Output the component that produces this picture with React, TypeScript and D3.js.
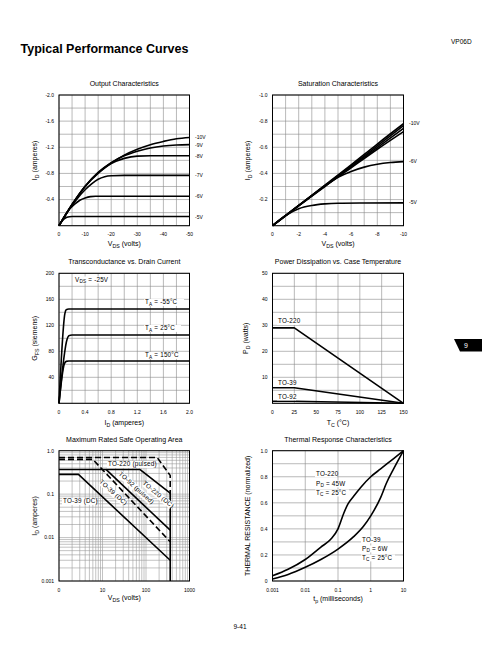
import React from "react";
import * as d3 from "d3";

const W = 486, H = 649;
const FONT = "'Liberation Sans', Arial, Helvetica, sans-serif";

// ---------- layout ----------
const L1 = 59, R1 = 189.5, L2 = 272.5, R2 = 403.5;
const T1 = 95, B1 = 225.7, T2 = 273.3, B2 = 403.3, T3 = 450.7, B3 = 581;

// ---------- Chart 1: Output Characteristics ----------
const c1XTicks = [0, -10, -20, -30, -40, -50];
const c1YTicks = [-2.0, -1.6, -1.2, -0.8, -0.4];
const c1YTickLabels = ["-2.0", "-1.6", "-1.2", "-0.8", "-0.4"];
const c1Labels = ["-10V", "-9V", "-8V", "-7V", "-6V", "-5V"];
const c1VdsA = [0, -5, -10, -15, -20, -25, -30, -35, -40, -45, -50];
const c1Id10 = [0, -0.32, -0.6, -0.81, -0.96, -1.08, -1.17, -1.24, -1.29, -1.33, -1.35];
const c1Id9 = [0, -0.325, -0.605, -0.815, -0.965, -1.07, -1.14, -1.19, -1.22, -1.235, -1.24];
const c1Id8 = [0, -0.325, -0.6, -0.8, -0.95, -1.03, -1.065, -1.07, -1.07, -1.07, -1.07];
const c1Vds7 = [0, -2.5, -5, -7.5, -10, -12.5, -15, -17.5, -20, -25, -50];
const c1Id7 = [0, -0.17, -0.31, -0.44, -0.55, -0.64, -0.71, -0.75, -0.765, -0.77, -0.77];
const c1Vds6 = [0, -2, -4, -6, -8, -10, -12, -14, -50];
const c1Id6 = [0, -0.13, -0.25, -0.33, -0.39, -0.425, -0.445, -0.45, -0.45];
const c1Vds5 = [0, -1, -2, -3, -4, -5, -50];
const c1Id5 = [0, -0.065, -0.105, -0.128, -0.138, -0.14, -0.14];

// ---------- Chart 2: Saturation Characteristics ----------
const c2XTicks = [0, -2, -4, -6, -8, -10];
const c2YTicks = [-1.0, -0.8, -0.6, -0.4, -0.2];
const c2YTickLabels = ["-1.0", "-0.8", "-0.6", "-0.4", "-0.2"];
const c2Vds = [0, -2, -4, -6, -8, -10];
const c2Id10 = [0, -0.155, -0.31, -0.465, -0.625, -0.78];
const c2Id9 = [0, -0.154, -0.306, -0.457, -0.611, -0.765];
const c2Id8 = [0, -0.153, -0.303, -0.45, -0.598, -0.745];
const c2Id7 = [0, -0.152, -0.3, -0.443, -0.585, -0.72];
const c2Vds6 = [0, -2, -4, -5, -6, -7, -8, -9, -10];
const c2Id6 = [0, -0.155, -0.305, -0.37, -0.415, -0.448, -0.47, -0.483, -0.49];
const c2Vds5 = [0, -1, -2, -3, -4, -5, -7, -10];
const c2Id5 = [0, -0.078, -0.13, -0.155, -0.167, -0.172, -0.174, -0.175];

// ---------- Chart 3: Transconductance ----------
const c3XTicks = [0, 0.4, 0.8, 1.2, 1.6, 2.0];
const c3XTickLabels = ["0", "0.4", "0.8", "1.2", "1.6", "2.0"];
const c3YTicks = [200, 160, 120, 80, 40];
const c3IdM55 = [0, 0.09, 0.11, 0.15, 2.0];
const c3GM55 = [0, 138, 144, 145, 145];
const c3Id25 = [0, 0.125, 0.15, 0.2, 2.0];
const c3G25 = [0, 99, 104, 105, 105];
const c3Id150 = [0, 0.08, 0.11, 0.15, 2.0];
const c3G150 = [0, 60, 64.5, 65, 65];

// ---------- Chart 4: Power Dissipation ----------
const c4XTicks = [0, 25, 50, 75, 100, 125, 150];
const c4YTicks = [50, 40, 30, 20, 10];
const c4Tc = [0, 25, 150];
const c4P220 = [29, 29, 0];
const c4P39 = [6, 6, 0];
const c4P92 = [0.8, 0.8, 0];

// ---------- Chart 5: SOA ----------
const c5XTicks = [1, 10, 100, 1000];
const c5XTickLabels = ["0", "10", "100", "1000"];
const c5YTicks = [1, 0.1, 0.01, 0.001];
const c5YTickLabels = ["1.0", "0.1", "0.01", "0.001"];
const c5V220p = [1, 180, 360, 360];
const c5I220p = [0.7, 0.7, 0.27, 0.1];
const c5V220 = [1, 72, 360, 360];
const c5I220 = [0.37, 0.37, 0.105, 0.001];
const c5V92p = [1, 6, 360];
const c5I92p = [0.63, 0.63, 0.008];
const c5V92 = [12, 360];
const c5I92 = [0.37, 0.0148];
const c5V39 = [1, 2.8, 360];
const c5I39 = [0.285, 0.285, 0.003];

// ---------- Chart 6: Thermal Response ----------
const c6XTicks = [0.001, 0.01, 0.1, 1, 10];
const c6XTickLabels = ["0.001", "0.01", "0.1", "1", "10"];
const c6YTicks = [1.0, 0.8, 0.6, 0.4, 0.2, 0];
const c6YTickLabels = ["1.0", "0.8", "0.6", "0.4", "0.2", "0"];
const c6T220 = [0.001, 0.003, 0.01, 0.03, 0.06, 0.1, 0.15, 0.2, 0.3, 0.5, 1, 2, 5, 10];
const c6R220 = [0.04, 0.09, 0.165, 0.26, 0.32, 0.4, 0.52, 0.59, 0.65, 0.72, 0.8, 0.86, 0.94, 1.0];
const c6T39 = [0.001, 0.003, 0.01, 0.03, 0.1, 0.3, 0.6, 1, 2, 3, 5, 10];
const c6R39 = [0.015, 0.05, 0.105, 0.165, 0.245, 0.34, 0.42, 0.5, 0.64, 0.75, 0.86, 1.0];

// ---------- helpers ----------
type P = [number, number];
const zip = (xs: number[], ys: number[]): P[] => xs.map((v, i) => [v, ys[i]] as P);
const TICK = 5, ANN = 6.3, TTL = 7, AX = 7;

function Rich({ parts, fs }: { parts: [string, boolean][]; fs: number }) {
  let prev = false;
  return (
    <>
      {parts.map(([t, s], i) => {
        let dy = 0;
        if (s && !prev) dy = fs * 0.3;
        if (!s && prev) dy = -fs * 0.3;
        prev = s;
        return (
          <tspan key={i} dy={dy} fontSize={s ? fs * 0.75 : fs}>
            {t}
          </tspan>
        );
      })}
    </>
  );
}

function Grid({ xs, ys, gx, gy, color = "#8a8a8a" }: any) {
  const [l, r] = xs.range();
  const [b, t] = ys.range();
  return (
    <g>
      {gx.map((v: number, i: number) => (
        <line key={"x" + i} x1={xs(v)} x2={xs(v)} y1={t} y2={b} stroke={color} strokeWidth={0.6} />
      ))}
      {gy.map((v: number, i: number) => (
        <line key={"y" + i} y1={ys(v)} y2={ys(v)} x1={l} x2={r} stroke={color} strokeWidth={0.6} />
      ))}
      <rect x={l} y={t} width={r - l} height={b - t} fill="none" stroke="#000" strokeWidth={1} />
    </g>
  );
}

function XTicks({ sc, vals, labels, y }: any) {
  return (
    <g fontSize={TICK} textAnchor="middle">
      {vals.map((v: number, i: number) => (
        <text key={i} x={sc(v)} y={y}>
          {labels ? labels[i] : String(v)}
        </text>
      ))}
    </g>
  );
}
function YTicks({ sc, vals, labels, x }: any) {
  return (
    <g fontSize={TICK} textAnchor="end">
      {vals.map((v: number, i: number) => (
        <text key={i} x={x} y={sc(v) + 1.8}>
          {labels ? labels[i] : String(v)}
        </text>
      ))}
    </g>
  );
}

function Curve({ d, dash }: { d: string | null; dash?: string }) {
  return <path d={d || ""} fill="none" stroke="#000" strokeWidth={1.6} strokeDasharray={dash} strokeLinejoin="round" />;
}

function Ann({ x, y, parts, w, anchor = "start", rot = 0, bg = true }: any) {
  const fs = ANN;
  const x0 = anchor === "middle" ? -w / 2 : 0;
  return (
    <g transform={`translate(${x},${y}) rotate(${rot})`}>
      {bg && <rect x={x0 - 1} y={-fs * 0.8} width={w + 2} height={fs * 1.1} fill="#fff" />}
      <text x={0} y={0} fontSize={fs} textAnchor={anchor} letterSpacing={0.2}>
        <Rich parts={parts} fs={fs} />
      </text>
    </g>
  );
}

function YTitle({ x, y, parts }: any) {
  return (
    <text transform={`translate(${x},${y}) rotate(-90)`} textAnchor="middle" fontSize={AX}>
      <Rich parts={parts} fs={AX} />
    </text>
  );
}
function XTitle({ x, y, parts }: any) {
  return (
    <text x={x} y={y} textAnchor="middle" fontSize={AX}>
      <Rich parts={parts} fs={AX} />
    </text>
  );
}
function Title({ x, y, t }: any) {
  return (
    <text x={x} y={y} textAnchor="middle" fontSize={TTL}>
      {t}
    </text>
  );
}

export default function App() {
  const mono = d3.curveMonotoneX;
  // Chart 1
  const x1 = d3.scaleLinear().domain([0, -50]).range([L1, R1]);
  const y1 = d3.scaleLinear().domain([0, -2]).range([B1, T1]);
  const l1 = d3.line<P>().x((d) => x1(d[0])).y((d) => y1(d[1])).curve(mono);
  const c1Curves: P[][] = [
    zip(c1VdsA, c1Id10),
    zip(c1VdsA, c1Id9),
    zip(c1VdsA, c1Id8),
    zip(c1Vds7, c1Id7),
    zip(c1Vds6, c1Id6),
    zip(c1Vds5, c1Id5),
  ];
  // Chart 2
  const x2 = d3.scaleLinear().domain([0, -10]).range([L2, R2]);
  const y2 = d3.scaleLinear().domain([0, -1]).range([B1, T1]);
  const l2 = d3.line<P>().x((d) => x2(d[0])).y((d) => y2(d[1])).curve(mono);
  const c2Curves: P[][] = [
    zip(c2Vds, c2Id10),
    zip(c2Vds, c2Id9),
    zip(c2Vds, c2Id8),
    zip(c2Vds, c2Id7),
    zip(c2Vds6, c2Id6),
    zip(c2Vds5, c2Id5),
  ];
  // Chart 3
  const x3 = d3.scaleLinear().domain([0, 2]).range([L1, R1]);
  const y3 = d3.scaleLinear().domain([0, 200]).range([B2, T2]);
  const l3 = d3.line<P>().x((d) => x3(d[0])).y((d) => y3(d[1])).curve(mono);
  // Chart 4
  const x4 = d3.scaleLinear().domain([0, 150]).range([L2, R2]);
  const y4 = d3.scaleLinear().domain([0, 50]).range([B2, T2]);
  const l4 = d3.line<P>().x((d) => x4(d[0])).y((d) => y4(d[1]));
  // Chart 5
  const x5 = d3.scaleLog().domain([1, 1000]).range([L1, R1]);
  const y5 = d3.scaleLog().domain([0.001, 1]).range([B3, T3]);
  const l5 = d3.line<P>().x((d) => x5(d[0])).y((d) => y5(d[1]));
  const logGrid = (a: number, b: number) => {
    const out: number[] = [];
    for (let dec = a; dec < b * 0.999; dec *= 10) for (let k = 1; k < 10; k++) out.push(dec * k);
    out.push(b);
    return out;
  };
  const decades = (a: number, b: number) => {
    const out: number[] = [];
    for (let dec = a; dec <= b * 1.001; dec *= 10) out.push(dec);
    return out;
  };
  // Chart 6
  const x6 = d3.scaleLog().domain([0.001, 10]).range([L2, R2]);
  const y6 = d3.scaleLinear().domain([0, 1]).range([B3, T3]);
  const l6 = d3.line<P>().x((d) => x6(d[0])).y((d) => y6(d[1])).curve(mono);

  const IDparts: [string, boolean][] = [["I", false], ["D", true], [" (amperes)", false]];
  const VDSparts: [string, boolean][] = [["V", false], ["DS", true], [" (volts)", false]];

  return (
    <svg
      width={W}
      height={H}
      style={{ position: "absolute", left: 0, top: 0, background: "#fff" }}
      fontFamily={FONT}
    >
      <rect width={W} height={H} fill="#fff" />
      <text x={20.5} y={52.5} fontSize={12.5} fontWeight="bold">
        Typical Performance Curves
      </text>
      <text x={451} y={43.5} fontSize={6.5}>
        VP06D
      </text>
      <text x={240} y={629} fontSize={6.5} textAnchor="middle">
        9-41
      </text>

      {/* tab */}
      <polygon points="454,339 482,339 482,351.5 460,351.5" fill="#000" />
      <text x={464} y={348} fontSize={7} fill="#fff">
        9
      </text>

      {/* Chart 1 */}
      <Title x={(L1 + R1) / 2} y={86} t="Output Characteristics" />
      <Grid xs={x1} ys={y1} gx={d3.range(0, -55, -5)} gy={d3.range(0, -2.2, -0.2)} />
      {c1Curves.map((c, i) => (
        <Curve key={i} d={l1(c)} />
      ))}
      {c1Curves.map((c, i) => (
        <text key={i} x={R1 + 5.5} y={y1(c[c.length - 1][1]) + 2} fontSize={TICK}>
          {c1Labels[i]}
        </text>
      ))}
      <XTicks sc={x1} vals={c1XTicks} y={B1 + 10.5} />
      <YTicks sc={y1} vals={c1YTicks} labels={c1YTickLabels} x={L1 - 5} />
      <YTitle x={37} y={(T1 + B1) / 2} parts={IDparts} />
      <XTitle x={(L1 + R1) / 2} y={245.5} parts={VDSparts} />

      {/* Chart 2 */}
      <Title x={(L2 + R2) / 2} y={86} t="Saturation Characteristics" />
      <Grid xs={x2} ys={y2} gx={d3.range(0, -11, -1)} gy={d3.range(0, -1.1, -0.1)} />
      {c2Curves.map((c, i) => (
        <Curve key={i} d={l2(c)} />
      ))}
      {[0, 4, 5].map((i) => (
        <text key={i} x={R2 + 5.5} y={y2(c2Curves[i][c2Curves[i].length - 1][1]) + 1} fontSize={TICK}>
          {c1Labels[i]}
        </text>
      ))}
      <XTicks sc={x2} vals={c2XTicks} y={B1 + 10.5} />
      <YTicks sc={y2} vals={c2YTicks} labels={c2YTickLabels} x={L2 - 5} />
      <YTitle x={250} y={(T1 + B1) / 2} parts={IDparts} />
      <XTitle x={(L2 + R2) / 2} y={245.5} parts={VDSparts} />

      {/* Chart 3 */}
      <Title x={(L1 + R1) / 2} y={264} t="Transconductance vs. Drain Current" />
      <Grid xs={x3} ys={y3} gx={d3.range(0, 2.2, 0.2)} gy={d3.range(0, 220, 20)} />
      <Curve d={l3(zip(c3IdM55, c3GM55))} />
      <Curve d={l3(zip(c3Id25, c3G25))} />
      <Curve d={l3(zip(c3Id150, c3G150))} />
      <Ann x={75} y={281.5} w={34} parts={[["V", false], ["DS", true], [" = -25V", false]]} />
      <Ann x={145} y={304} w={38} parts={[["T", false], ["A", true], [" = -55°C", false]]} />
      <Ann x={145} y={330} w={35} parts={[["T", false], ["A", true], [" = 25°C", false]]} />
      <Ann x={145} y={357} w={39} parts={[["T", false], ["A", true], [" = 150°C", false]]} />
      <XTicks sc={x3} vals={c3XTicks} labels={c3XTickLabels} y={B2 + 10.5} />
      <YTicks sc={y3} vals={c3YTicks} x={L1 - 5} />
      <YTitle x={37} y={(T2 + B2) / 2} parts={[["G", false], ["FS", true], [" (siemens)", false]]} />
      <XTitle x={(L1 + R1) / 2} y={424.5} parts={IDparts} />

      {/* Chart 4 */}
      <Title x={(L2 + R2) / 2} y={264} t="Power Dissipation vs. Case Temperature" />
      <Grid xs={x4} ys={y4} gx={d3.range(0, 175, 25)} gy={d3.range(0, 55, 5)} />
      <Curve d={l4(zip(c4Tc, c4P220))} />
      <Curve d={l4(zip(c4Tc, c4P39))} />
      <Curve d={l4(zip(c4Tc, c4P92))} />
      <Ann x={278} y={323} w={20} parts={[["TO-220", false]]} />
      <Ann x={278} y={385} w={17} parts={[["TO-39", false]]} />
      <Ann x={278} y={398.5} w={17} parts={[["TO-92", false]]} />
      <XTicks sc={x4} vals={c4XTicks} y={B2 + 10.5} />
      <YTicks sc={y4} vals={c4YTicks} x={L2 - 5} />
      <YTitle x={248} y={(T2 + B2) / 2} parts={[["P", false], ["D", true], [" (watts)", false]]} />
      <XTitle x={(L2 + R2) / 2} y={424.5} parts={[["T", false], ["C", true], [" (°C)", false]]} />

      {/* Chart 5 */}
      <Title x={(L1 + R1) / 2} y={442} t="Maximum Rated Safe Operating Area" />
      <Grid xs={x5} ys={y5} gx={logGrid(1, 1000)} gy={logGrid(0.001, 1)} color="#9a9a9a" />
      <Curve d={l5(zip(c5V220p, c5I220p))} dash="6,3" />
      <Curve d={l5(zip(c5V92p, c5I92p))} dash="6,3" />
      <Curve d={l5(zip(c5V220, c5I220))} />
      <Curve d={l5(zip(c5V92, c5I92))} />
      <Curve d={l5(zip(c5V39, c5I39))} />
      <Ann x={108} y={466} w={44} parts={[["TO-220 (pulsed)", false]]} />
      <Ann x={63} y={503} w={32} parts={[["TO-39 (DC)", false]]} />
      <Ann x={157} y={496} w={34} anchor="middle" rot={40} parts={[["TO-220 (DC)", false]]} />
      <Ann x={135} y={489.5} w={41} anchor="middle" rot={42} parts={[["TO-92 (pulsed)", false]]} />
      <Ann x={112} y={494} w={31} anchor="middle" rot={42} parts={[["TO-39 (DC)", false]]} />
      <XTicks sc={x5} vals={c5XTicks} labels={c5XTickLabels} y={B3 + 10.5} />
      <YTicks sc={y5} vals={c5YTicks} labels={c5YTickLabels} x={L1 - 5} />
      <YTitle x={37} y={(T3 + B3) / 2} parts={IDparts} />
      <XTitle x={(L1 + R1) / 2} y={600} parts={VDSparts} />

      {/* Chart 6 */}
      <Title x={(L2 + R2) / 2} y={442} t="Thermal Response Characteristics" />
      <Grid xs={x6} ys={y6} gx={decades(0.001, 10)} gy={d3.range(0, 1.1, 0.1)} />
      <Curve d={l6(zip(c6T220, c6R220))} />
      <Curve d={l6(zip(c6T39, c6R39))} />
      <Ann x={316} y={475.5} w={20} parts={[["TO-220", false]]} />
      <Ann x={316} y={485.5} w={29} parts={[["P", false], ["D", true], ["  = 45W", false]]} />
      <Ann x={316} y={494.5} w={32} parts={[["T", false], ["C", true], [" = 25°C", false]]} />
      <Ann x={362} y={541.5} w={17} parts={[["TO-39", false]]} />
      <Ann x={362} y={550.5} w={26} parts={[["P", false], ["D", true], ["  = 6W", false]]} />
      <Ann x={362} y={559.5} w={32} parts={[["T", false], ["C", true], [" = 25°C", false]]} />
      <XTicks sc={x6} vals={c6XTicks} labels={c6XTickLabels} y={B3 + 10.5} />
      <YTicks sc={y6} vals={c6YTicks} labels={c6YTickLabels} x={L2 - 5} />
      <YTitle x={250} y={(T3 + B3) / 2} parts={[["THERMAL RESISTANCE (normalized)", false]]} />
      <XTitle x={(L2 + R2) / 2} y={601} parts={[["t", false], ["p", true], [" (milliseconds)", false]]} />
    </svg>
  );
}
